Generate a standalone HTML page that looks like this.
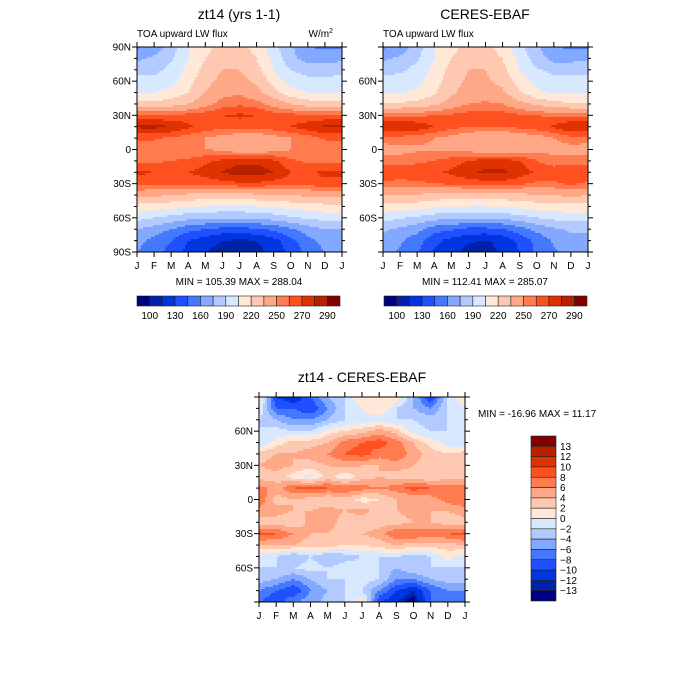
<!DOCTYPE html>
<html><head><meta charset="utf-8">
<style>
html,body{margin:0;padding:0;background:#fff;}
svg{display:block;font-family:"Liberation Sans",sans-serif;}
</style></head>
<body>
<svg id="chart" width="700" height="700" viewBox="0 0 700 700" xmlns="http://www.w3.org/2000/svg">
<rect width="700" height="700" fill="#fff"/>
</svg>
<script>
// ---- data ----
const months = ["J","F","M","A","M","J","J","A","S","O","N","D","J"];
const lats = [90,80,70,60,50,40,30,20,10,0,-10,-20,-30,-40,-50,-60,-70,-80,-90];
const latTicks = ["90N","60N","30N","0","30S","60S","90S"];
const latTickVals = [90,60,30,0,-30,-60,-90];
const fluxLevels = [100,115,130,145,160,175,190,205,220,235,250,260,270,280,290];
const fluxLabels = ["100","130","160","190","220","250","270","290"];
const diffLevels = [-13,-12,-10,-8,-6,-4,-2,0,2,4,6,8,10,12,13];
const diffLabels = ["-13","-12","-10","-8","-6","-4","-2","0","2","4","6","8","10","12","13"];
const palette = ["#00007f","#0022a8","#0035e0","#1e50ff","#4378ff","#82a8ff","#b2caff","#d8e8ff","#ffe8d8","#ffc8b0","#ffa888","#ff7c50","#ff5020","#e03200","#b82000","#800000"];

const modelFlux = [
[158,165,182,205,215,225,225,215,195,178,160,158,158],
[172,178,188,205,220,230,230,220,200,180,168,168,172],
[185,185,195,210,225,235,235,225,205,190,183,183,185],
[195,195,200,215,230,240,240,232,215,200,195,195,195],
[205,205,210,220,235,245,248,240,225,210,205,205,205],
[225,225,228,235,245,255,258,255,245,235,228,225,225],
[262,262,262,264,266,270,272,270,266,264,262,262,262],
[282,283,280,272,266,264,264,264,266,270,276,282,282],
[262,262,258,255,250,245,240,240,245,250,255,262,262],
[250,250,252,252,250,248,240,240,245,250,250,250,250],
[258,258,260,262,268,272,278,278,272,262,258,258,258],
[272,270,268,270,274,281,285,285,280,270,268,272,272],
[265,262,262,262,264,266,268,268,266,264,264,268,268],
[240,238,236,232,230,230,230,232,234,236,238,240,240],
[215,212,210,206,204,202,202,204,206,210,212,215,215],
[195,190,185,180,178,176,176,178,182,188,192,195,195],
[175,168,160,150,145,140,140,142,148,158,168,175,175],
[165,155,145,130,122,115,112,115,125,140,155,165,165],
[160,150,140,125,115,108,105,110,120,135,150,160,160]];

const obsFlux = [
[158,165,182,205,215,225,225,212,195,178,160,158,158],
[172,178,188,205,220,230,230,220,200,182,170,170,172],
[185,187,195,210,225,235,235,225,205,192,185,185,185],
[196,196,200,214,228,238,238,230,214,200,196,196,196],
[205,204,208,218,232,242,244,238,222,208,204,204,205],
[222,222,225,232,242,250,252,250,240,232,225,222,222],
[258,258,258,260,262,265,266,265,262,260,258,258,258],
[280,281,278,270,264,260,260,260,263,266,272,280,280],
[256,256,254,250,246,240,236,236,240,244,250,256,256],
[244,246,248,248,248,246,238,238,242,246,246,245,244],
[255,255,258,260,265,270,275,275,270,260,255,255,255],
[268,267,266,268,272,278,282,282,276,268,266,268,268],
[258,256,258,260,262,264,266,266,262,258,258,262,258],
[236,235,234,230,228,229,229,230,231,234,236,238,236],
[215,213,212,208,206,204,204,206,208,212,214,215,215],
[196,192,187,181,179,177,177,179,184,190,194,196,196],
[178,172,165,152,147,141,141,144,154,164,172,178,178],
[170,162,152,134,125,117,114,120,134,150,162,170,170],
[166,158,146,128,118,110,108,118,130,148,158,166,166]];

const diffVals = [
[2,-10,-12,-8,-4,-2,2,2,2,-4,-10,-2,2],
[0,-8,-8,-10,-6,-2,0,2,-2,-4,-6,-2,0],
[-2,-4,-6,-6,-4,-2,-1,-1,-2,-2,-3,-2,-2],
[-2,-1,-2,-2,1,2,3,5,3,-1,-2,-2,-2],
[-2,1,3,3,4,7,8,9,7,4,1,-1,-2],
[3,4,4,5,6,8,9,7,8,5,3,2,3],
[4,5,4,3,4,5,4,4,5,4,3,3,4],
[3,3,1,-1,3,0,3,4,3,3,2,3,3],
[7,5,8,9,8,8,7,6,7,9,8,7,7],
[8,3,4,3,2,3,1,2,4,4,5,7,8],
[5,5,4,4,5,4,5,3,4,5,4,4,5],
[3,3,2,5,5,3,2,3,3,4,4,3,3],
[9,8,6,4,4,3,4,5,8,8,7,8,9],
[4,4,4,3,3,2,2,3,4,3,3,3,4],
[-1,-2,-4,-2,-4,-3,-2,-2,-2,-3,-2,1,-1],
[-2,-2,-2,-1,-2,-1,-1,-2,-4,-2,-2,-2,-2],
[-3,-4,-6,-4,-2,-2,-1,-2,-6,-6,-4,-3,-3],
[-6,-8,-10,-6,-4,-2,-2,-6,-10,-12,-8,-6,-6],
[-8,-10,-6,-5,-3,-2,2,-10,-12,-14,-8,-6,-8]];

// ---- helpers ----
const NS="http://www.w3.org/2000/svg";
const svg=document.getElementById("chart");
function mk(tag,attrs,parent){const e=document.createElementNS(NS,tag);for(const k in attrs)e.setAttribute(k,attrs[k]);(parent||svg).appendChild(e);return e;}
function txt(s,x,y,size,anchor,name,parent){const t=mk("text",{x:x,y:y,"font-size":size,"text-anchor":anchor||"start",fill:"#000"},parent);t.textContent=s;


return t;}
function levelIndex(v,levels){let i=0;while(i<levels.length&&v>=levels[i])i++;return i;}
function sample(grid,fx,fy){
  fx=Math.max(0,Math.min(12,fx));fy=Math.max(0,Math.min(18,fy));
  const x0=Math.min(Math.floor(fx),11),y0=Math.min(Math.floor(fy),17);
  const tx=fx-x0,ty=fy-y0;
  const a=grid[y0][x0],b=grid[y0][x0+1],c=grid[y0+1][x0],d=grid[y0+1][x0+1];
  return (a*(1-tx)+b*tx)*(1-ty)+(c*(1-tx)+d*tx)*ty;
}

function panel(opt){
  const {x0,x1,y0,y1,grid,levels,name}=opt;
  const g=mk("g",{});
  
  
  const W=x1-x0,H=y1-y0;
  const xScale=m=>x0+m/12*W;
  const yScale=lat=>y0+(90-lat)/180*H;
  const step=2;
  const nx=Math.ceil(W/step),ny=Math.ceil(H/step);
  function emit(xs,xe,py,col){
    const r=mk("rect",{x:xs,y:py,width:xe-xs+0.4,height:Math.min(step,y1-py)+0.4,fill:col},g);
    
    
  }
  for(let j=0;j<ny;j++){
    const py=y0+j*step;
    const fy=((py+step/2-y0)/H)*18;
    let runStart=x0,runCol=null;
    for(let i=0;i<nx;i++){
      const px=x0+i*step;
      const fx=((px+step/2-x0)/W)*12;
      const col=palette[levelIndex(sample(grid,fx,fy),levels)];
      if(col!==runCol){
        if(runCol!==null)emit(runStart,px,py,runCol);
        runStart=px;runCol=col;
      }
    }
    emit(runStart,x1,py,runCol);
  }
  const frame=mk("rect",{x:x0,y:y0,width:W,height:H,fill:"none",stroke:"#000","stroke-width":1},g);
  
  
  months.forEach((m,i)=>{
    const x=xScale(i);
    mk("line",{x1:x,x2:x,y1:y0,y2:y0-5,stroke:"#000"},g);
    mk("line",{x1:x,x2:x,y1:y1,y2:y1+5,stroke:"#000"},g);
    txt(m,x,y1+17,10,"middle","month-label",g);
  });
  for(let lat=-90;lat<=90;lat+=10){
    const y=yScale(lat);const len=lat%30===0?5:3;
    mk("line",{x1:x0,x2:x0-len,y1:y,y2:y,stroke:"#000"},g);
    mk("line",{x1:x1,x2:x1+len,y1:y,y2:y,stroke:"#000"},g);
  }
  latTickVals.forEach((v,i)=>{
    if(opt.skipEnds&&(v===90||v===-90))return;
    txt(latTicks[i],x0-6,yScale(v)+3.5,10,"end","lat-label",g);
  });
}

function hbar(x0,y0,w,h,labels,name){
  const g=mk("g",{});
  
  
  const bw=w/palette.length;
  palette.forEach((c,i)=>{
    const r=mk("rect",{x:x0+i*bw,y:y0,width:bw,height:h,fill:c,stroke:"#222","stroke-width":0.6},g);
    
    
  });
  labels.forEach((l,i)=>txt(l,x0+bw*(1+2*i),y0+h+13,10,"middle","colorbar-label",g));
}

panel({x0:137,x1:342,y0:47,y1:252,grid:modelFlux,levels:fluxLevels,name:"model-panel"});
txt("zt14 (yrs 1-1)",239,19,14,"middle","model-title");
txt("TOA upward LW flux",137,37,10,"start","model-subtitle");
const u=txt("W/m",333,37,10,"end","units-label");
const sup=mk("tspan",{dy:-4,"font-size":7},u);sup.textContent="2";

txt("MIN = 105.39 MAX = 288.04",239,285,10,"middle","model-minmax");
hbar(137,296,203,10,fluxLabels,"model-colorbar");

panel({x0:383,x1:588,y0:47,y1:252,grid:obsFlux,levels:fluxLevels,name:"obs-panel",skipEnds:true});
txt("CERES-EBAF",485,19,14,"middle","obs-title");
txt("TOA upward LW flux",383,37,10,"start","obs-subtitle");
txt("MIN = 112.41 MAX = 285.07",485,285,10,"middle","obs-minmax");
hbar(384,296,203,10,fluxLabels,"obs-colorbar");

panel({x0:259,x1:465,y0:397,y1:602,grid:diffVals,levels:diffLevels,name:"diff-panel",skipEnds:true});
txt("zt14 - CERES-EBAF",362,382,14,"middle","diff-title");
txt("MIN = -16.96 MAX =  11.17",478,417,10,"start","diff-minmax");
(function(){
  const g=mk("g",{});
  
  
  const x=531,y=436,w=25,h=165,bh=h/palette.length;
  palette.slice().reverse().forEach((c,i)=>{
    const r=mk("rect",{x:x,y:y+i*bh,width:w,height:bh,fill:c,stroke:"#222","stroke-width":0.6},g);
    
    
  });
  diffLabels.slice().reverse().forEach((l,i)=>txt(l.replace("-","\u2212"),x+w+4,y+(i+1)*bh+3.5,10,"start","colorbar-label",g));
})();
</script>
</body></html>
